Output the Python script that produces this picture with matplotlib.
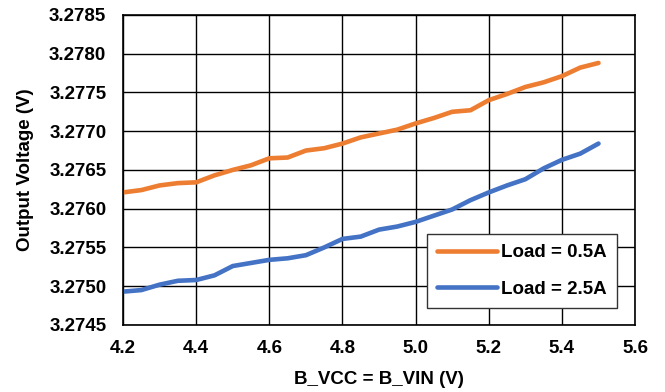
import matplotlib

matplotlib.use("Agg")
import matplotlib.pyplot as plt
from matplotlib.ticker import FormatStrFormatter, MultipleLocator

# B_VCC = B_VIN sweep (V)
vin = [4.20, 4.25, 4.30, 4.35, 4.40, 4.45, 4.50, 4.55, 4.60, 4.65, 4.70, 4.75, 4.80, 4.85,
       4.90, 4.95, 5.00, 5.05, 5.10, 5.15, 5.20, 5.25, 5.30, 5.35, 5.40, 5.45, 5.50]

# output voltage (V)
vout_05a = [3.27621, 3.27624, 3.27630, 3.27633, 3.27634, 3.27643, 3.27650, 3.27656, 3.27665,
            3.27666, 3.27675, 3.27678, 3.27684, 3.27692, 3.27697, 3.27702, 3.27710, 3.27717,
            3.27725, 3.27727, 3.27740, 3.27748, 3.27757, 3.27763, 3.27771, 3.27782, 3.27788]
vout_25a = [3.27493, 3.27495, 3.27502, 3.27507, 3.27508, 3.27514, 3.27526, 3.27530, 3.27534,
            3.27536, 3.27540, 3.27550, 3.27561, 3.27564, 3.27573, 3.27577, 3.27583, 3.27591,
            3.27599, 3.27611, 3.27621, 3.27630, 3.27638, 3.27652, 3.27663, 3.27671, 3.27684]

plt.rcParams["font.family"] = ["Liberation Sans", "DejaVu Sans"]
plt.rcParams["font.weight"] = "bold"
FS = 13.5

fig = plt.figure(figsize=(6.65, 3.92), dpi=100)
ax = fig.add_axes([0.185, 0.171, 0.770, 0.791])

ax.plot(vin, vout_05a, color="#ED7D31", linewidth=3.3, solid_capstyle="round", label="Load = 0.5A")
ax.plot(vin, vout_25a, color="#4472C4", linewidth=3.3, solid_capstyle="round", label="Load = 2.5A")

ax.set_xlim(4.2, 5.6)
ax.set_ylim(3.2745, 3.2785)
ax.xaxis.set_major_locator(MultipleLocator(0.2))
ax.yaxis.set_major_locator(MultipleLocator(0.0005))
ax.xaxis.set_major_formatter(FormatStrFormatter("%.1f"))
ax.yaxis.set_major_formatter(FormatStrFormatter("%.4f"))
ax.grid(True, color="black", linewidth=1.0)
ax.set_axisbelow(True)
for spine in ax.spines.values():
    spine.set_color("black")
    spine.set_linewidth(1.2)
ax.tick_params(length=0, labelsize=FS, pad=11)
ax.tick_params(axis="y", pad=12)
for lbl in ax.get_xticklabels() + ax.get_yticklabels():
    lbl.set_fontweight("bold")

ax.set_xlabel("B_VCC = B_VIN (V)", fontsize=FS, fontweight="bold", labelpad=10)
ax.set_ylabel("Output Voltage (V)", fontsize=FS, fontweight="bold", labelpad=11)

leg = ax.legend(loc="lower right", bbox_to_anchor=(0.965, 0.055), fontsize=FS,
                handlelength=3.2, handletextpad=0.2, labelspacing=1.02, borderpad=0.55,
                fancybox=False, framealpha=1.0, edgecolor="#333333", borderaxespad=0)
leg.get_frame().set_linewidth(1.0)
for text in leg.get_texts():
    text.set_fontweight("bold")

fig.savefig("out.png", dpi=100)
